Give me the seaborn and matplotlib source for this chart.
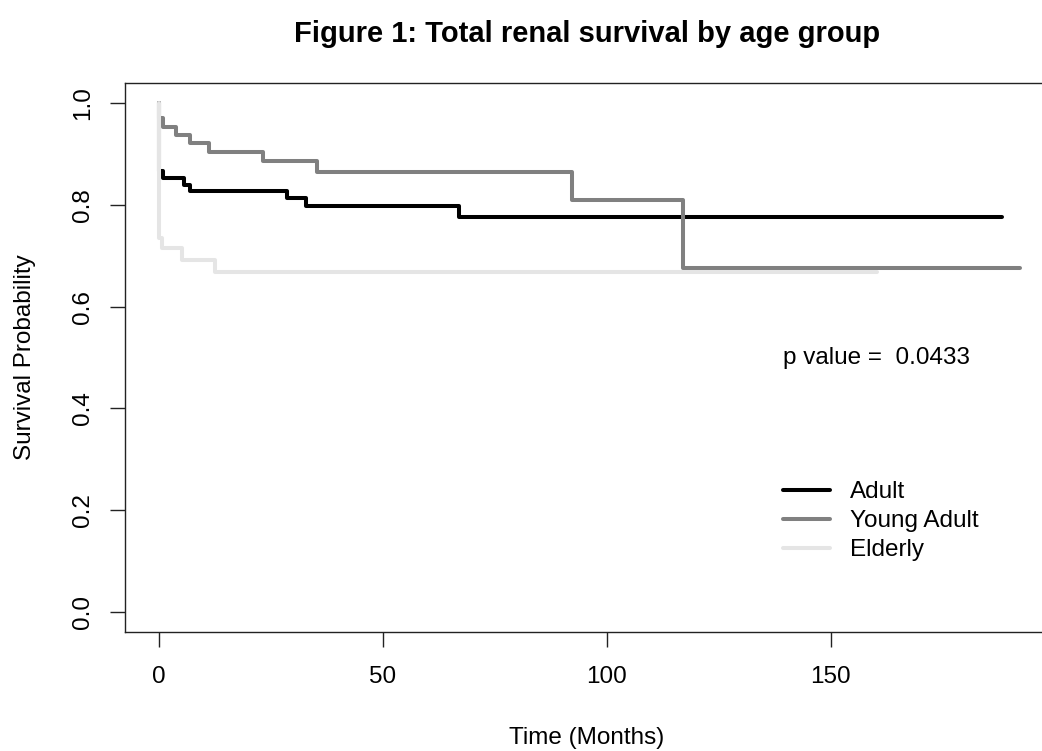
import numpy as np
import pandas as pd
import matplotlib
matplotlib.use("Agg")
import matplotlib.pyplot as plt
import seaborn as sns
from matplotlib.lines import Line2D

# Kaplan-Meier step points (time in months, survival)
adult_time = [0, 0, 0.74, 5.6, 6.9, 28.6, 32.8, 67.0, 188.2]
adult_surv = [1.0, 0.866, 0.853, 0.840, 0.828, 0.813, 0.798, 0.776, 0.776]

young_time = [0, 0, 0.74, 3.7, 6.9, 11.2, 23.2, 35.2, 92.2, 117.0, 192.3]
young_surv = [1.0, 0.971, 0.954, 0.938, 0.921, 0.905, 0.887, 0.865, 0.810, 0.676, 0.676]

elderly_time = [0, 0, 0.6, 5.1, 12.5, 160.3]
elderly_surv = [1.0, 0.735, 0.715, 0.692, 0.669, 0.669]

groups = ["Adult", "Young Adult", "Elderly"]
colors = ["#000000", "#808080", "#e5e5e5"]
p_value = 0.0433

df = pd.concat([
    pd.DataFrame({"time": adult_time, "surv": adult_surv, "group": "Adult"}),
    pd.DataFrame({"time": young_time, "surv": young_surv, "group": "Young Adult"}),
    pd.DataFrame({"time": elderly_time, "surv": elderly_surv, "group": "Elderly"}),
], ignore_index=True)

sns.set_style("white")
plt.rcParams["font.family"] = ["Liberation Sans", "DejaVu Sans"]
plt.rcParams["text.color"] = "black"
plt.rcParams["axes.labelcolor"] = "black"
plt.rcParams["xtick.color"] = "black"
plt.rcParams["ytick.color"] = "black"

fig = plt.figure(figsize=(10.42, 7.51), dpi=100)
ax = fig.add_axes([0.12, 0.158, 0.886, 0.7317])

ax = sns.lineplot(data=df, x="time", y="surv", hue="group", hue_order=groups,
                  palette=dict(zip(groups, colors)), estimator=None, sort=False,
                  drawstyle="steps-post", linewidth=2.9, legend=False, ax=ax)

ax.set_xlim(-7.64, 198.6)
ax.set_ylim(-0.04, 1.04)
ax.set_xticks([0, 50, 100, 150])
ax.set_yticks([0.0, 0.2, 0.4, 0.6, 0.8, 1.0])
ax.set_yticklabels(["0.0", "0.2", "0.4", "0.6", "0.8", "1.0"], rotation=90, va="center")
ax.tick_params(axis="both", direction="out", length=11, width=1, labelsize=17.5,
               color="#222222", left=True, bottom=True)
ax.tick_params(axis="y", pad=11.5)
ax.tick_params(axis="x", pad=13)

for s in ax.spines.values():
    s.set_color("#222222")
    s.set_linewidth(1.0)

ax.set_xlabel("Time (Months)", fontsize=17.5, labelpad=28)
ax.set_ylabel("Survival Probability", fontsize=17.5, labelpad=26)
fig.suptitle("Figure 1: Total renal survival by age group", fontsize=21,
             fontweight="bold", x=0.5635, y=0.973)

ax.text(139.3, 0.5, "p value =  {}".format(p_value), fontsize=17.5, va="center", ha="left")

handles = [Line2D([0], [0], color=c, lw=2.9) for c in colors]
ax.legend(handles, groups, loc="upper left", bbox_to_anchor=(0.702, 0.293),
          frameon=False, fontsize=17.5, handlelength=1.93, handletextpad=0.82,
          labelspacing=0.29, borderaxespad=0)

fig.savefig("out.png", dpi=100)
